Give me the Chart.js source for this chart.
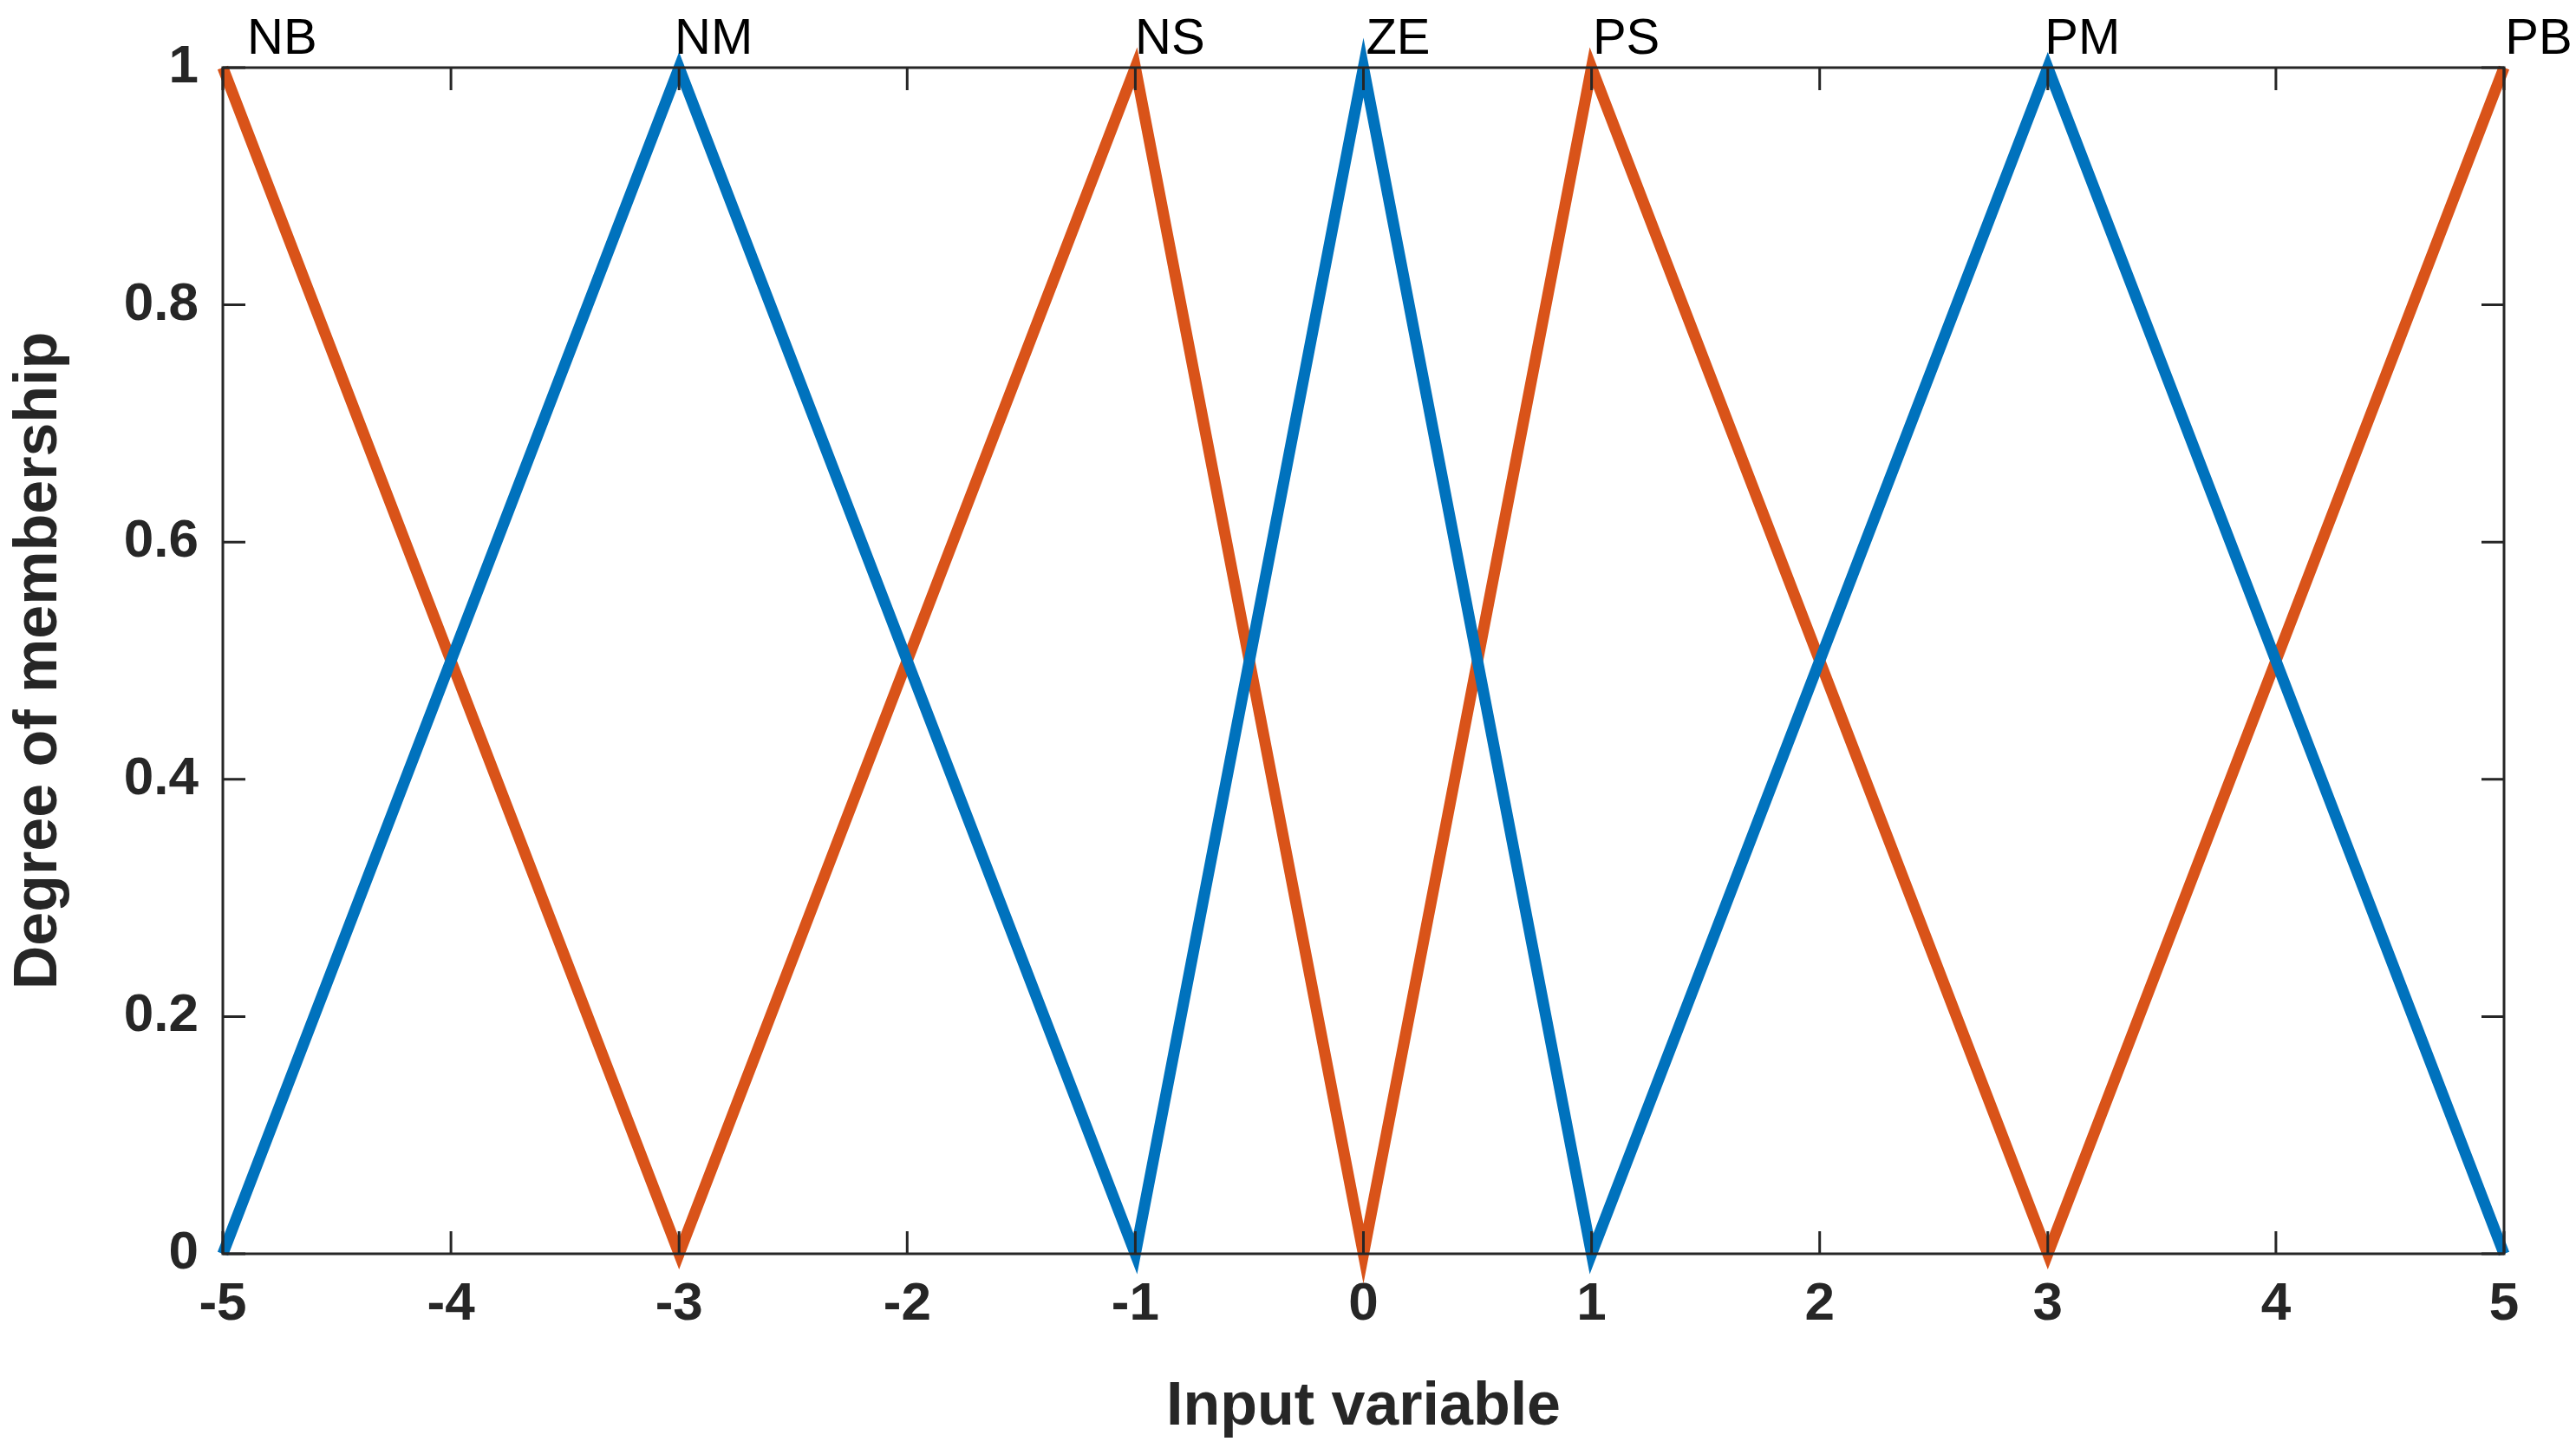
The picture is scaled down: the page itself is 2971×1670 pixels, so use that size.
<!DOCTYPE html>
<html>
<head>
<meta charset="utf-8">
<script src="https://cdn.jsdelivr.net/npm/chart.js@4"></script>
<style>
  html, body { margin: 0; padding: 0; background: #fff; }
  #wrap { width: 2971px; height: 1670px; position: relative; }
</style>
</head>
<body>
<div id="wrap"><canvas id="c"></canvas></div>
<script>
// membership functions, breakpoints
const xPoints = [-5, -3, -1, 0, 1, 3, 5];
const blueValues = [0, 1, 0, 1, 0, 1, 0];
const orangeValues = [1, 0, 1, 0, 1, 0, 1];
const mfNames = ["NB", "NM", "NS", "ZE", "PS", "PM", "PB"];
const xTicks = [-5, -4, -3, -2, -1, 0, 1, 2, 3, 4, 5];
const yTicks = [0, 0.2, 0.4, 0.6, 0.8, 1];

const font = "'Liberation Sans', Arial, sans-serif";
const ink = "#262626";

const toXY = (vals) => xPoints.map((x, i) => ({x: x, y: vals[i]}));

// box with inward ticks and the membership function names
const boxPlugin = {
    id: "box",
    afterDraw(chart) {
        const {ctx, chartArea: a, scales} = chart;
        ctx.save();
        ctx.strokeStyle = ink;
        ctx.lineWidth = 3;
        ctx.strokeRect(a.left, a.top, a.right - a.left, a.bottom - a.top);
        const t = 26;
        ctx.beginPath();
        xTicks.forEach(v => {
            const px = scales.x.getPixelForValue(v);
            ctx.moveTo(px, a.bottom); ctx.lineTo(px, a.bottom - t);
            ctx.moveTo(px, a.top); ctx.lineTo(px, a.top + t);
        });
        yTicks.forEach(v => {
            const py = scales.y.getPixelForValue(v);
            ctx.moveTo(a.left, py); ctx.lineTo(a.left + t, py);
            ctx.moveTo(a.right, py); ctx.lineTo(a.right - t, py);
        });
        ctx.stroke();

        ctx.fillStyle = "#000";
        ctx.font = "58px " + font;
        ctx.textBaseline = "alphabetic";
        mfNames.forEach((name, i) => {
            const px = scales.x.getPixelForValue(xPoints[i]);
            if (i === 0) {
                ctx.textAlign = "left";
                ctx.fillText(name, px + 28, 62);
            } else {
                ctx.textAlign = "center";
                ctx.fillText(name, px + 40, 62);
            }
        });
        ctx.restore();
    }
};

new Chart(document.getElementById("c"), {
    type: "line",
    data: {
        datasets: [
            {
                label: "blue",
                data: toXY(blueValues),
                borderColor: "#0072BD",
                borderWidth: 13,
                pointRadius: 0,
                tension: 0,
                clip: false
            },
            {
                label: "orange",
                data: toXY(orangeValues),
                borderColor: "#D95319",
                borderWidth: 13,
                pointRadius: 0,
                tension: 0,
                clip: false
            }
        ]
    },
    options: {
        responsive: true,
        maintainAspectRatio: false,
        animation: false,
        layout: { padding: { top: 78, right: 83, left: 0, bottom: 0 } },
        plugins: { legend: { display: false }, tooltip: { enabled: false } },
        scales: {
            x: {
                type: "linear",
                min: -5,
                max: 5,
                afterBuildTicks: (s) => { s.ticks = xTicks.map(v => ({value: v})); },
                afterFit: (s) => { s.height = 224; },
                grid: { display: false },
                border: { display: false },
                ticks: { color: ink, font: { family: font, size: 62, weight: "bold" }, padding: 14, maxRotation: 0 },
                title: { display: true, text: "Input variable", color: ink, font: { family: font, size: 70, weight: "bold" }, padding: { top: 0 } }
            },
            y: {
                min: 0,
                max: 1,
                afterBuildTicks: (s) => { s.ticks = yTicks.map(v => ({value: v})); },
                afterFit: (s) => { s.width = 257; },
                grid: { display: false },
                border: { display: false },
                ticks: { color: ink, font: { family: font, size: 62, weight: "bold" }, padding: 20,
                         callback: (v) => String(v) },
                title: { display: true, text: "Degree of membership", color: ink, font: { family: font, size: 70, weight: "bold" }, padding: { bottom: 14 } }
            }
        }
    },
    plugins: [boxPlugin]
});
</script>
</body>
</html>
